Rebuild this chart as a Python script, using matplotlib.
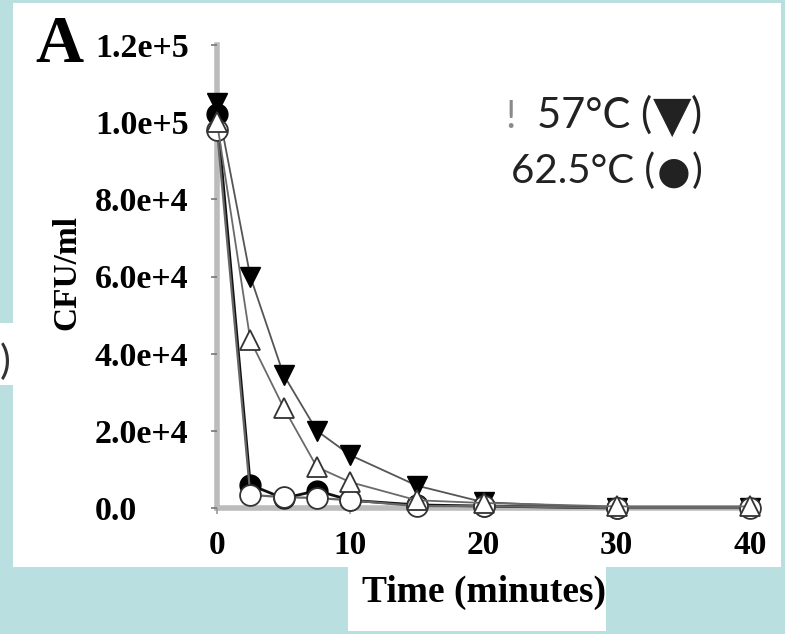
import matplotlib
matplotlib.use("Agg")
import matplotlib.pyplot as plt
from matplotlib.patches import Rectangle

# ---- data -------------------------------------------------------------
time_min = [0, 2.5, 5, 7.5, 10, 15, 20, 30, 40]
cfu_57_filled_tri = [105000, 60000, 34500, 20000, 13700, 5800, 1500, 0, 0]
cfu_open_tri = [100000, 43500, 26000, 10600, 6700, 2000, 1300, 400, 400]
cfu_62_filled_circ = [102000, 6000, 2500, 4500, 2000, 800, 500, 0]
cfu_open_circ = [98000, 3400, 2800, 2600, 2000, 500, 500, 0, 0]

y_ticks = [0, 20000, 40000, 60000, 80000, 100000, 120000]
y_tick_labels = ["0.0", "2.0e+4", "4.0e+4", "6.0e+4", "8.0e+4", "1.0e+5", "1.2e+5"]
x_ticks = [0, 10, 20, 30, 40]
x_tick_labels = ["0", "10", "20", "30", "40"]

# ---- figure -----------------------------------------------------------
W, H = 785, 634
BG = "#b9dfe0"
fig = plt.figure(figsize=(W / 100, H / 100), dpi=100, facecolor=BG)


def fx(x):
    return x / W


def fy(y):
    return 1 - y / H


def panel(x0, y0, x1, y1):
    r = Rectangle((fx(x0), fy(y1)), fx(x1) - fx(x0), fy(y0) - fy(y1),
                  transform=fig.transFigure, facecolor="white",
                  edgecolor="none", zorder=-5)
    fig.patches.append(r)


panel(13, 3, 781, 567)      # main chart panel
panel(0, 323, 13, 385)      # neighbouring panel edge
panel(348, 567, 606, 631)   # axis title box

serif = "Liberation Serif"

ax = fig.add_axes([fx(217), fy(508), fx(750) - fx(217), fy(45) - fy(508)])
ax.patch.set_alpha(0)
ax.set_xlim(0, 40)
ax.set_ylim(0, 120000)

for s in ("top", "right"):
    ax.spines[s].set_visible(False)
for s in ("left", "bottom"):
    ax.spines[s].set_color("#bcbcbc")
    ax.spines[s].set_linewidth(4)
    ax.spines[s].set_zorder(1)

ax.set_yticks(y_ticks, labels=y_tick_labels)
ax.set_xticks(x_ticks, labels=x_tick_labels)
ax.tick_params(axis="y", direction="out", length=4, width=1.2, color="#777777",
               pad=84, labelsize=24.5)
ax.tick_params(axis="x", direction="out", length=4, width=1.2, color="#999999",
               pad=12, labelsize=24)
for lbl in ax.get_yticklabels():
    lbl.set_ha("left")
    lbl.set_fontfamily(serif)
    lbl.set_fontweight("bold")
for lbl in ax.get_xticklabels():
    lbl.set_fontfamily(serif)
    lbl.set_fontweight("bold")

ms = 15
# 57 C, filled down triangles
ax.plot(time_min, cfu_57_filled_tri, color="#555555", lw=1.3, marker="v",
        ms=ms, mfc="black", mec="black", mew=1.0, zorder=3, clip_on=False)
# 62.5 C, filled circles
ax.plot(time_min[:len(cfu_62_filled_circ)], cfu_62_filled_circ, color="#111111",
        lw=2.0, marker="o", ms=ms, mfc="black", mec="black", mew=1.0,
        zorder=4, clip_on=False)
# open circles
ax.plot(time_min, cfu_open_circ, color="#666666", lw=1.6, marker="o",
        ms=ms, mfc="white", mec="#333333", mew=1.3, zorder=5, clip_on=False)
# open up triangles
ax.plot(time_min, cfu_open_tri, color="#6a6a6a", lw=1.3, marker="^",
        ms=ms, mfc="white", mec="#333333", mew=1.3, zorder=6, clip_on=False)

ax.set_xlabel("Time (minutes)", fontfamily=serif, fontweight="bold", fontsize=27)
ax.xaxis.set_label_coords(0.5, (508 - 602) / 463)
ax.xaxis.label.set_va("baseline")

fig.text(fx(67), fy(273), "CFU/ml", rotation=90, ha="center", va="center",
         fontfamily=serif, fontweight="bold", fontsize=24)

fig.text(fx(35), fy(62), "A", ha="left", va="baseline",
         fontfamily=serif, fontweight="bold", fontsize=48)

# ---- symbol key, laid out right to left from its right edge -----------
sans = ["Lato", "DejaVu Sans"]
renderer = fig.canvas.get_renderer()


def key_line(parts, x_right, y_base):
    """parts: (text, fontsize, baseline shift in px) placed right to left."""
    x = x_right
    for text, size, dy in reversed(parts):
        t = fig.text(fx(x), fy(y_base + dy), text, ha="right", va="baseline",
                     fontfamily=sans, fontsize=size, color="#222222")
        w = t.get_window_extent(renderer).width
        x -= w


key_line([("57\u00b0C (", 30, 0), ("\u25bc", 36, 3), (")", 30, 0)], 702, 128)
key_line([("62.5\u00b0C (", 29, 0), ("\u25cf", 43, 9), (")", 29, 0)], 702, 183)
fig.text(fx(511), fy(128), "!", ha="center", va="baseline",
         fontfamily=sans, fontsize=28, color="#8a8a8a")

fig.text(fx(10), fy(362), ")", ha="right", va="center",
         fontfamily=sans, fontsize=29, color="#333333")

fig.savefig("out.png", dpi=100, facecolor=BG)
